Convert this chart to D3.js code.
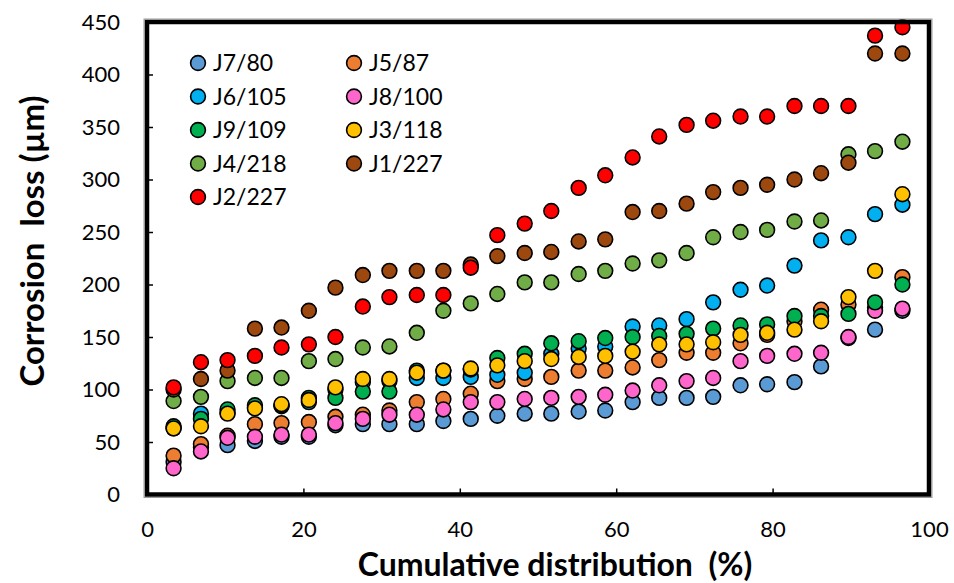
<!DOCTYPE html>
<html>
<head>
<meta charset="utf-8">
<script src="https://cdn.jsdelivr.net/npm/d3@7"></script>
<style>
  body { margin: 0; background: #fff; }
  svg { display: block; font-family: Lato, "Open Sans", sans-serif; }
</style>
</head>
<body>
<div id="canvas"></div>
<script>
"use strict"

/* data */
let xPct = [3.4, 6.9, 10.3, 13.8, 17.2, 20.7, 24.1, 27.6, 31.0, 34.5, 37.9, 41.4, 44.8, 48.3,
            51.7, 55.2, 58.6, 62.1, 65.5, 69.0, 72.4, 75.9, 79.3, 82.8, 86.2, 89.7, 93.1, 96.6];

let seriesNames = ["J7/80", "J5/87", "J6/105", "J8/100", "J9/109", "J3/118", "J4/218", "J1/227", "J2/227"];

let j7 = [31, 45, 47, 51, 55, 55, 66, 67, 67, 67, 70, 72, 75, 77, 77, 79, 80, 88, 92, 92, 93, 104, 105, 107, 122, 149, 157, 175];
let j5 = [37, 48, 56, 67, 68, 69, 74, 76, 80, 88, 91, 96, 108, 110, 112, 118, 118, 121, 128, 135, 135, 144, 152, 165, 176, 181, 178, 207];
let j6 = [63, 77, 78, 83, 84, 88, 100, 107, 108, 111, 111, 112, 114, 116, 134, 139, 141, 160, 161, 167, 183, 195, 199, 218, 242, 245, 267, 276];
let j8 = [25, 41, 54, 55, 57, 57, 68, 72, 76, 76, 81, 88, 88, 91, 92, 93, 95, 99, 104, 108, 111, 127, 132, 134, 135, 150, 175, 177];
let j9 = [65, 72, 81, 85, 85, 92, 92, 98, 98, 118, 118, 119, 130, 134, 144, 146, 149, 150, 151, 153, 158, 161, 162, 170, 170, 172, 183, 200];
let j3 = [63, 65, 77, 82, 86, 90, 102, 110, 110, 116, 118, 120, 123, 127, 129, 131, 132, 136, 143, 143, 145, 152, 154, 157, 165, 188, 213, 286];
let j4 = [89, 93, 108, 111, 111, 127, 129, 140, 141, 154, 175, 182, 191, 202, 202, 210, 213, 220, 223, 230, 245, 250, 252, 260, 261, 324, 327, 336];
let j1 = [100, 110, 118, 158, 159, 175, 197, 209, 213, 213, 213, 219, 227, 230, 231, 241, 243, 269, 270, 277, 288, 292, 295, 300, 306, 316, 420, 420];
let j2 = [102, 126, 128, 132, 140, 143, 150, 179, 188, 190, 190, 216, 247, 258, 270, 292, 304, 321, 341, 352, 356, 360, 360, 370, 370, 370, 437, 445];

let yTicks = [0, 50, 100, 150, 200, 250, 300, 350, 400, 450];
let xTicks = [0, 20, 40, 60, 80, 100];

let seriesValues = [j7, j5, j6, j8, j9, j3, j4, j1, j2];
let colors = ["#5B9BD5", "#ED7D31", "#00B0F0", "#FF66CC", "#00B050", "#FFC000", "#70AD47", "#9C480E", "#FF0000"];

/* drawing */
let svgWidth = 954;
let svgHeight = 583;
let plotLeft = 147, plotRight = 929, plotTop = 22, plotBottom = 494.5;

let svg = d3.select("#canvas")
    .append("svg")
    .attr("width", svgWidth)
    .attr("height", svgHeight);

let xScale = d3.scaleLinear().domain([0, 100]).range([plotLeft, plotRight]);
let yScale = d3.scaleLinear().domain([0, 450]).range([plotBottom, plotTop]);

/* axes, ticks point inward */
let yAxis = svg.append("g")
    .attr("transform", "translate(" + plotLeft + ",0)")
    .call(d3.axisLeft(yScale).tickValues(yTicks).tickSize(-6).tickPadding(27));

let xAxis = svg.append("g")
    .attr("transform", "translate(0," + plotBottom + ")")
    .call(d3.axisBottom(xScale).tickValues(xTicks).tickSize(-6).tickPadding(27));

[yAxis, xAxis].forEach(function (g) {
    g.select(".domain").remove();
    g.selectAll(".tick line").attr("stroke", "#000").attr("stroke-width", 1.5);
    g.selectAll(".tick text")
        .attr("fill", "#000")
        .style("font-family", "Lato, sans-serif")
        .style("font-size", "22px");
});

/* points, later series on top */
seriesValues.forEach(function (vals, s) {
    svg.append("g")
        .selectAll("circle")
        .data(vals)
        .join("circle")
        .attr("cx", function (d, i) { return xScale(xPct[i]); })
        .attr("cy", function (d) { return yScale(d); })
        .attr("r", 7.4)
        .attr("fill", colors[s])
        .attr("stroke", "#000")
        .attr("stroke-width", 1.6);
});

/* frame, with a faint grey edge outside like the original */
svg.append("rect")
    .attr("x", plotLeft - 3)
    .attr("y", plotTop - 3)
    .attr("width", plotRight - plotLeft + 6)
    .attr("height", plotBottom - plotTop + 6)
    .attr("fill", "none")
    .attr("stroke", "#999")
    .attr("stroke-width", 1);

svg.append("rect")
    .attr("x", plotLeft)
    .attr("y", plotTop)
    .attr("width", plotRight - plotLeft)
    .attr("height", plotBottom - plotTop)
    .attr("fill", "none")
    .attr("stroke", "#000")
    .attr("stroke-width", 4.5);

/* legend: two columns, row-major */
let legend = svg.append("g");
seriesNames.forEach(function (name, i) {
    let col = i % 2, row = Math.floor(i / 2);
    let lx = 198 + col * 156;
    let ly = 63 + row * 33.5;
    legend.append("circle")
        .attr("cx", lx).attr("cy", ly).attr("r", 7.4)
        .attr("fill", colors[i]).attr("stroke", "#000").attr("stroke-width", 1.6);
    legend.append("text")
        .attr("x", lx + 15).attr("y", ly)
        .attr("dy", "0.36em")
        .style("font-size", "23px")
        .text(name);
});

/* axis titles */
svg.append("text")
    .attr("x", 555)
    .attr("y", 576)
    .attr("text-anchor", "middle")
    .style("font-size", "32px")
    .style("font-weight", "bold")
    .style("white-space", "pre")
    .text("Cumulative distribution  (%)");

svg.append("text")
    .attr("transform", "translate(44,241) rotate(-90)")
    .attr("text-anchor", "middle")
    .style("font-size", "33px")
    .style("font-weight", "bold")
    .style("white-space", "pre")
    .text("Corrosion  loss (µm)");
</script>
</body>
</html>
